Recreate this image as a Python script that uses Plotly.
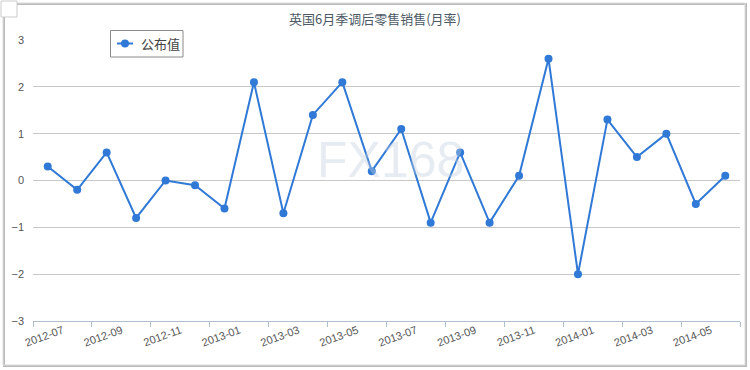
import plotly.graph_objects as go

months = ["2012-07","2012-08","2012-09","2012-10","2012-11","2012-12",
          "2013-01","2013-02","2013-03","2013-04","2013-05","2013-06",
          "2013-07","2013-08","2013-09","2013-10","2013-11","2013-12",
          "2014-01","2014-02","2014-03","2014-04","2014-05","2014-06"]
values = [0.3, -0.2, 0.6, -0.8, 0.0, -0.1, -0.6, 2.1, -0.7, 1.4, 2.1, 0.2,
          1.1, -0.9, 0.6, -0.9, 0.1, 2.6, -2.0, 1.3, 0.5, 1.0, -0.5, 0.1]
series_name = "公布值"
title = "英国6月季调后零售销售(月率)"
y_ticks = [-3, -2, -1, 0, 1, 2, 3]

W, H = 750, 370
L, R, T, B = 33, 10, 40, 49
pw, ph = W - L - R, H - T - B

def px(x):
    return (x - L) / pw

def py(y):
    return (H - B - y) / ph

idx = list(range(len(months)))
line_color = "#3079d6"

fig = go.Figure()
fig.add_trace(go.Scatter(
    x=idx, y=values, mode="lines+markers", name=series_name,
    line=dict(color=line_color, width=2),
    marker=dict(color=line_color, size=8),
    showlegend=False,
))

axis_col = "#b0bfcf"
fig.update_layout(
    width=W, height=H,
    margin=dict(l=L, r=R, t=T, b=B),
    paper_bgcolor="white", plot_bgcolor="white",
    font=dict(family="Noto Sans CJK SC, Liberation Sans, sans-serif", color="#555"),
    title=dict(text=title, x=0.5, xanchor="center", y=1 - 19 / H, yanchor="middle",
               font=dict(size=13, color="#4d5a66")),
    xaxis=dict(
        range=[-0.5, len(months) - 0.5], showgrid=False, zeroline=False,
        tickvals=idx[::2], ticktext=months[::2], tickangle=-20,
        ticks="", ticklabelshift=15, ticklabelstandoff=-2,
        tickfont=dict(size=11, family="Liberation Sans, sans-serif", color="#555"),
        showline=True, linecolor=axis_col, linewidth=1,
        minor=dict(tickvals=[i - 0.5 for i in range(0, len(months) + 1, 2)],
                   ticks="outside", ticklen=5, tickcolor=axis_col, showgrid=False),
    ),
    yaxis=dict(
        range=[-3, 3], tickvals=y_ticks, showgrid=True, gridcolor="#c8c8c8", gridwidth=1,
        zeroline=False, showline=False, ticks="", ticklabelstandoff=8,
        tickfont=dict(size=11, family="Liberation Sans, sans-serif", color="#555"),
    ),
)

# watermark
fig.add_annotation(text="FX168", xref="paper", yref="paper", x=px(390), y=py(130),
                   showarrow=False, font=dict(size=50, color="rgba(195,208,222,0.4)",
                                              family="Liberation Sans, sans-serif"))

# legend (drawn manually to match compact box)
fig.add_shape(type="rect", xref="paper", yref="paper", x0=px(110.5), x1=px(183), y0=py(57), y1=py(30.5),
              line=dict(color="#8a8a8a", width=1), fillcolor="white")
fig.add_shape(type="line", xref="paper", yref="paper", x0=px(117), x1=px(133), y0=py(43.5), y1=py(43.5),
              line=dict(color=line_color, width=2))
fig.add_shape(type="circle", xref="paper", yref="paper", x0=px(121), x1=px(129), y0=py(47.5), y1=py(39.5),
              line=dict(color=line_color, width=0), fillcolor=line_color)
fig.add_annotation(text=series_name, xref="paper", yref="paper", x=px(139), y=py(43.5),
                   xanchor="left", yanchor="middle", showarrow=False,
                   font=dict(size=13, color="#444"))

# outer border with shadow
fig.add_shape(type="rect", xref="paper", yref="paper", x0=px(4), x1=px(746), y0=py(366), y1=py(4),
              line=dict(color="#bbbbbb", width=2), layer="below")
fig.add_shape(type="rect", xref="paper", yref="paper", x0=px(3), x1=px(745), y0=py(365), y1=py(3),
              line=dict(color="#dddddd", width=1), layer="below")
# small square top-left
fig.add_shape(type="rect", xref="paper", yref="paper", x0=px(1), x1=px(17), y0=py(17), y1=py(1),
              line=dict(color="#cccccc", width=1), fillcolor="white")

fig.write_html("out.html")
